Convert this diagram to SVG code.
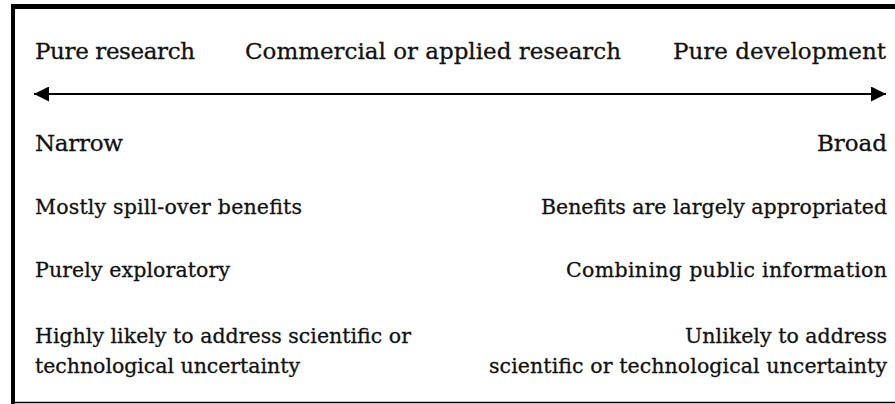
<svg xmlns="http://www.w3.org/2000/svg" width="895" height="404" viewBox="0 0 895 404">
  <defs>
    <style>
      text { font-family: "DejaVu Serif", "Liberation Serif", serif; fill: #111; stroke: #111; stroke-width: 0.3; }
      .lg { font-size: 23px; }
      .sm { font-size: 20.5px; }
      .r { text-anchor: end; }
      .frame { stroke: #000; fill: none; }
      .axis { stroke: #000; stroke-width: 2; fill: none; }
    </style>
    <marker id="head" viewBox="0 0 10 10" refX="10" refY="5" markerWidth="16" markerHeight="15" markerUnits="userSpaceOnUse" orient="auto-start-reverse">
      <path d="M0,0 L10,5 L0,10 Z" fill="#000"/>
    </marker>
  </defs>

  <rect width="895" height="404" fill="#fff"/>

  <!-- frame: heavy top and left rules, hairline at the bottom -->
  <g id="frame">
    <line class="frame" x1="11" y1="6.5" x2="895" y2="6.5" stroke-width="5"/>
    <line class="frame" x1="13" y1="4" x2="13" y2="404" stroke-width="4"/>
    <line class="frame" x1="11" y1="402.5" x2="895" y2="402.5" stroke-width="1.5"/>
  </g>

  <!-- spectrum headings -->
  <g id="pure-research"><text class="lg" x="35" y="59" textLength="160">Pure research</text></g>
  <g id="applied-research"><text class="lg" x="245" y="59" textLength="376">Commercial or applied research</text></g>
  <g id="pure-development"><text class="lg r" x="886" y="59" textLength="213">Pure development</text></g>

  <!-- double-headed axis -->
  <g id="connectors">
    <line class="axis" x1="34" y1="94" x2="886" y2="94" marker-start="url(#head)" marker-end="url(#head)"/>
  </g>

  <!-- left-hand column -->
  <g id="narrow"><text class="lg" x="35" y="151" textLength="88">Narrow</text></g>
  <g id="spill-over"><text class="sm" x="35" y="214" textLength="267">Mostly spill-over benefits</text></g>
  <g id="exploratory"><text class="sm" x="35" y="277" textLength="195">Purely exploratory</text></g>
  <g id="likely-uncertainty">
    <text class="sm" x="35" y="343" textLength="376">Highly likely to address scientific or</text>
    <text class="sm" x="35" y="373" textLength="265">technological uncertainty</text>
  </g>

  <!-- right-hand column -->
  <g id="broad"><text class="lg r" x="887" y="151" textLength="70">Broad</text></g>
  <g id="appropriated"><text class="sm r" x="887" y="214" textLength="346">Benefits are largely appropriated</text></g>
  <g id="public-info"><text class="sm r" x="887" y="277" textLength="321">Combining public information</text></g>
  <g id="unlikely-uncertainty">
    <text class="sm r" x="887" y="343" textLength="202">Unlikely to address</text>
    <text class="sm r" x="887" y="373" textLength="398">scientific or technological uncertainty</text>
  </g>
</svg>
